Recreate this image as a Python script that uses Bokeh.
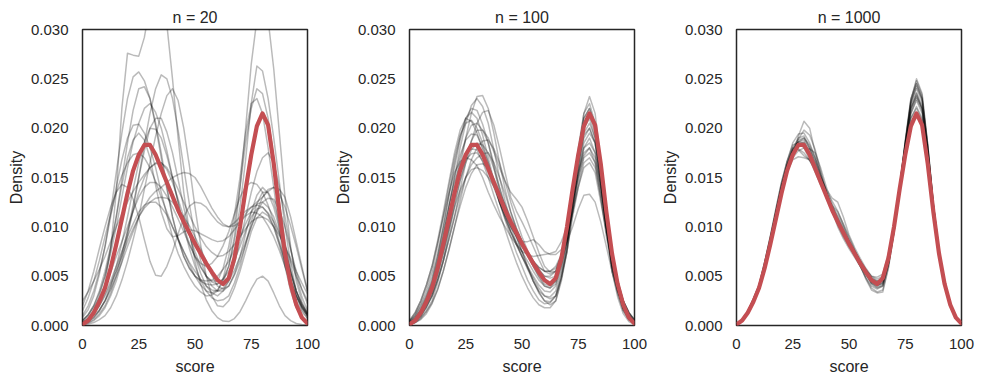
from bokeh.plotting import figure
from bokeh.layouts import row
from bokeh.models import Range1d, FixedTicker, NumeralTickFormatter
from bokeh.embed import file_html
from bokeh.resources import INLINE

# ---------------- data (densities given in units of 0.001) ----------------
UNIT = 0.001

titles = ["n = 20", "n = 100", "n = 1000"]
x_ticks = [0, 25, 50, 75, 100]
y_ticks = [0.0, 0.005, 0.010, 0.015, 0.020, 0.025, 0.030]

# score grid on which all curves were read
score = [0, 2.5, 5, 7.5, 10, 12.5, 15, 17.5, 20, 22.5, 25, 27.5, 30, 32.5, 35, 37.5,
         40, 42.5, 45, 47.5, 50, 52.5, 55, 57.5, 60, 62.5, 65, 67.5, 70, 72.5, 75,
         77.5, 80, 82.5, 85, 87.5, 90, 92.5, 95, 97.5, 100]

# true density (red)
true_density = [0.1, 0.5, 1.3, 2.4, 3.8, 5.8, 8.2, 10.8, 13.4, 15.7, 17.3, 18.3, 18.3, 17.3,
                15.9, 14.5, 13.1, 11.7, 10.5, 9.4, 8.3, 7.3, 6.3, 5.4, 4.6, 4.2, 4.8, 6.8,
                10.0, 13.8, 17.3, 20.2, 21.5, 20.3, 16.4, 11.5, 7.3, 4.2, 2.1, 0.8, 0.2]

# sample KDE curves, n = 20
kde_n20 = [
    [0.3, 0.6, 1.2, 2.3, 4.2, 7.8, 13.5, 22, 27.6, 27.4, 27.3, 29.2, 32.5, 34.5, 34, 30.5, 25, 19, 13.5, 9.5, 6.5, 4.2, 2.6, 1.5, 0.8, 0.45, 0.4, 0.7, 1.4, 2.5, 3.7, 4.7, 5, 4.5, 3.3, 2, 1.0, 0.5, 0.2, 0.1, 0.05],
    [0.3, 0.6, 1.2, 2, 3.2, 4.5, 6, 7.5, 9, 10.3, 11.5, 12.2, 12.5, 12.5, 12, 11.2, 10, 8.8, 7.5, 6.2, 5, 4.1, 3.5, 3.3, 3.6, 4.4, 6, 9, 14, 20, 26.5, 31, 33, 31, 26, 19.5, 13, 8, 4.5, 2.4, 1.2],
    [0.5, 1, 1.8, 2.8, 4, 5.4, 7, 8.5, 10, 11.6, 13, 14, 14.5, 14.5, 14, 13.1, 12, 10.8, 9.5, 8.2, 7, 5.9, 5, 4.4, 4.2, 4.7, 6, 8.5, 12, 16.8, 22.5, 26.3, 25.8, 23, 19, 14.5, 10, 6.3, 3.5, 1.9, 1],
    [1, 2, 3.5, 5.5, 8, 11, 14, 16.8, 19, 20.3, 20.4, 19.5, 18, 16, 13.5, 11.2, 9, 7.3, 6, 4.9, 4, 3.4, 3, 3.1, 3.5, 4.8, 7, 10.3, 14, 18.5, 22, 24, 23.5, 21, 17, 12.5, 8.5, 5.5, 3, 1.6, 0.8],
    [0.2, 0.4, 0.8, 1.5, 2.5, 3.8, 5.5, 7.4, 9.5, 11.6, 13.5, 15, 16, 16.5, 16.5, 15.8, 14.5, 12.8, 11, 9.2, 7.5, 6, 5, 4.5, 4.5, 5.8, 8, 11.2, 15, 19.5, 22.5, 23, 21.5, 18, 14, 9.8, 6, 3.5, 1.8, 0.9, 0.4],
    [0.8, 1.6, 3, 5.2, 8, 11.5, 15.5, 19.5, 23, 25.2, 25.7, 24.8, 23, 20.2, 17, 13.8, 11, 8.8, 7, 5.8, 5, 4.6, 4.5, 4.6, 5, 5.7, 6.5, 7.7, 9, 10.3, 11.5, 12.3, 12.5, 12, 11, 9.4, 7.5, 5.4, 3.5, 2.2, 1.2],
    [0.1, 0.25, 0.5, 1, 1.8, 3, 4.5, 6.5, 9, 11.8, 15, 18.4, 21.5, 24, 25.4, 25, 23, 19.8, 16, 12.3, 9, 6.6, 5, 4, 3.5, 3.5, 4, 5.1, 6.5, 8.2, 10, 11.5, 12.5, 12.9, 12.8, 11.7, 10, 7.7, 5.5, 3.6, 2.2],
    [0.05, 0.15, 0.3, 0.6, 1, 1.8, 3, 4.6, 6.5, 8.7, 11, 13.8, 16.5, 19.2, 21.5, 23.3, 24, 22.8, 20, 16.2, 12, 8.2, 5, 3, 2, 1.9, 2.5, 3.8, 5.5, 7.5, 9.5, 10.9, 11.5, 11.1, 10, 8.1, 6, 4.1, 2.5, 1.4, 0.7],
    [0.5, 1.1, 2, 3.3, 5, 7.3, 10, 13, 16, 18.6, 20.5, 22, 22.5, 21.6, 20, 17.7, 15, 12.4, 10, 8.3, 7, 6.3, 6, 6.3, 7, 8.1, 9.5, 11.3, 13, 14.1, 14.5, 14.3, 13.5, 12.2, 10.5, 8.5, 6.5, 4.6, 3, 1.8, 1],
    [0.1, 0.3, 0.6, 1.2, 2, 3.3, 5, 7.1, 9.5, 12.2, 15, 17.7, 20, 21, 21, 19.6, 17.5, 14.8, 12, 9.3, 7, 5.3, 4, 3.3, 3, 3.5, 4.5, 6.3, 8.5, 11, 13.5, 15.6, 17, 17.5, 16.5, 14, 11, 7.8, 5, 2.9, 1.5],
    [2, 3.5, 5.5, 7.8, 10, 12, 13.5, 14.3, 14, 12.8, 11, 8.7, 6.5, 5.1, 5, 6, 7.5, 9.3, 11, 12.1, 12.5, 12.4, 12, 11.2, 10.5, 10.1, 10, 10.4, 11, 11.6, 12, 12.2, 12, 11.4, 10.5, 9.3, 8, 6.5, 5, 3.7, 2.5],
    [0.3, 0.6, 1, 1.6, 2.5, 3.6, 5, 6.4, 8, 9.5, 11, 12.1, 13, 13.6, 14, 14.5, 15, 15.3, 15.5, 15.4, 15, 14.1, 13, 11.9, 11, 10.3, 10, 10.1, 10.5, 11.1, 11.5, 11.4, 11, 10.1, 9, 7.6, 6, 4.4, 3, 2, 1.2],
    [0.5, 1.1, 2, 3.5, 5.5, 8, 11, 14.2, 17, 18.8, 19.5, 18.8, 17, 14.2, 11.5, 9.8, 9, 9.1, 9.5, 9.7, 9.6, 9.3, 9, 8.7, 8.5, 8.6, 9, 9.7, 10.5, 11.3, 12, 12.5, 13, 13.6, 14, 13.8, 13, 11, 8.5, 6, 3.5],
    [1.5, 2.8, 4.5, 6.6, 9, 11.3, 13.5, 15.2, 16.5, 17.3, 17.5, 17, 16, 14.6, 13, 11.5, 10, 8.7, 7.5, 6.4, 5.5, 4.7, 4, 3.6, 3.5, 3.8, 4.5, 5.6, 7, 8.5, 10, 11.6, 13, 13.8, 14, 13.3, 12, 10.1, 8, 5.7, 3.5],
    [0.2, 0.4, 0.8, 1.5, 2.5, 4, 6, 8.4, 11, 13.8, 16.5, 18.6, 20, 19.9, 19, 17.2, 15, 12.5, 10, 7.8, 6, 4.6, 3.5, 2.8, 2.5, 2.6, 3, 4.3, 6, 8.2, 10.5, 12.3, 13.5, 13.5, 12.5, 10.4, 8, 5.6, 3.5, 2, 1],
    [2.5, 3.4, 4.5, 5.7, 7, 8.5, 10, 11.3, 12.5, 13.6, 14.5, 15.3, 16, 16.4, 16.5, 16, 15, 13.8, 12.5, 11.2, 10, 8.9, 8, 7.4, 7, 7.1, 7.5, 8.2, 9, 9.8, 10.5, 10.9, 11, 10.7, 10, 9.1, 8, 6.8, 5.5, 4.3, 3.2],
    [0.3, 0.7, 1.2, 2, 3, 4.2, 5.5, 7, 8.5, 9.8, 11, 11.9, 12.5, 12.9, 13, 12.9, 12.5, 11.8, 11, 10.1, 9, 7.8, 6.5, 5.1, 4, 3.7, 4, 5.2, 7, 9.3, 11.5, 13.2, 14, 13.4, 12, 9.8, 7.5, 5.3, 3.5, 2.2, 1.2],
    [0.3, 0.8, 1.5, 3, 5, 7.8, 11, 14.8, 18.5, 21.8, 24, 24.2, 23, 20.5, 17.5, 14.1, 11, 8.7, 7, 5.8, 5, 4.5, 4.2, 4.1, 4.2, 4.7, 5.5, 6.6, 8, 9.6, 11, 11.8, 12, 11.3, 10, 8.3, 6.5, 4.6, 3, 1.8, 1],
]

# sample KDE curves, n = 100
kde_n100 = [
    [0.2, 0.5, 1.2, 2.1, 3.3, 5.2, 7.5, 10.1, 13, 16, 19, 21.5, 23.2, 23.3, 22, 19.5, 16.5, 13.8, 11.5, 9.8, 8.5, 7.2, 6, 4.9, 4, 3.8, 4.5, 6.6, 9.5, 13, 16.5, 19.3, 20, 18.5, 14.5, 10, 6.5, 4, 2, 0.9, 0.3],
    [0.3, 0.7, 1.5, 2.6, 4, 6.3, 9, 12, 15, 18, 20.5, 22.3, 23, 22.2, 20.5, 17.8, 15, 12.6, 10.5, 9.1, 8, 7, 6, 5, 4.2, 4, 4.5, 6.5, 9.5, 13.5, 17.5, 21, 22, 20, 15.5, 10.5, 6.5, 3.8, 1.8, 0.7, 0.2],
    [0.2, 0.5, 1, 1.9, 3, 4.6, 6.5, 8.7, 11, 13.8, 16.5, 18.7, 20.5, 21.6, 21.8, 20.3, 18, 15.5, 13, 11.6, 10.5, 9.3, 8, 6.7, 5.5, 5.2, 5.5, 7.2, 9.5, 12.5, 15.5, 17.5, 18, 16.5, 13, 9, 6, 3.7, 2, 1, 0.4],
    [0.4, 1, 2, 3.3, 5, 7.3, 10, 13, 16, 18.8, 21, 21.6, 21, 19.3, 17, 14.7, 12.5, 10.9, 9.5, 8.2, 7, 5.8, 4.8, 3.8, 3, 2.7, 3, 5.2, 8, 12.5, 17.5, 21.5, 23.2, 21.5, 16.5, 11, 6.5, 3.8, 1.7, 0.7, 0.2],
    [0.5, 1.3, 2.5, 4.1, 6, 8.6, 11.5, 14.5, 17.5, 19.8, 21, 20.7, 19.5, 17.8, 16, 14.2, 12.5, 11.2, 10, 9, 8, 7.2, 6.5, 5.9, 5.5, 5.5, 6, 7.2, 9, 11.5, 14, 16, 16.5, 15.5, 12.5, 9.5, 6.5, 4.3, 2.5, 1.3, 0.6],
    [0.2, 0.5, 1.2, 2.2, 3.5, 5.5, 8, 10.9, 14, 16.8, 19, 20.3, 20.5, 19.8, 18.5, 16.4, 14, 11.9, 10, 8.4, 7, 5.7, 4.5, 3.4, 2.5, 2.1, 2.5, 4.5, 7.5, 12, 16.5, 20, 21, 19, 14.5, 9.5, 5.5, 3.2, 1.5, 0.6, 0.2],
    [0.1, 0.3, 0.8, 1.5, 2.5, 4.3, 6.5, 9.2, 12, 14.7, 17, 18.7, 19.8, 19.8, 19, 17.6, 16, 14.6, 13.5, 12.8, 12, 10.6, 9, 7.4, 6, 5.4, 5.5, 6.7, 8.5, 11.5, 15, 18, 19, 17.5, 14, 10, 6.5, 4, 2, 0.9, 0.3],
    [0.1, 0.3, 0.7, 1.4, 2.3, 3.7, 5.5, 7.6, 10, 12.6, 15, 16.8, 18, 18.7, 18.8, 17.9, 16.5, 14.6, 12.5, 10.7, 9, 7.6, 6.5, 5.6, 5, 5, 5.5, 7, 9, 11.5, 14.5, 17, 17.5, 16.5, 13.5, 10, 7, 4.6, 2.5, 1.3, 0.5],
    [0.3, 0.9, 1.8, 3, 4.5, 6.8, 9.5, 12.1, 14.5, 16.3, 17.5, 17.9, 17.8, 16.6, 15, 13.2, 11.5, 9.7, 8, 6.4, 5, 3.8, 2.8, 2.1, 1.8, 1.8, 2.5, 4.8, 8, 13, 18, 21.5, 22.5, 20.5, 15.5, 10, 5.5, 2.9, 1.2, 0.4, 0.1],
    [0.2, 0.6, 1.3, 2.4, 3.8, 6, 8.5, 11, 13.5, 15.5, 16.8, 17.4, 17.5, 16.7, 15.5, 14, 12.5, 11.1, 10, 9.1, 8.5, 8.5, 8.7, 8.2, 7.5, 7.2, 7.2, 7.7, 8.5, 10, 11.8, 13.2, 13.3, 12.5, 10.5, 8, 5.5, 3.5, 2, 1, 0.4],
    [0.2, 0.5, 1.2, 2.2, 3.5, 5.3, 7.5, 9.8, 12, 13.7, 15, 15.8, 16, 15.7, 15, 14.1, 13, 11.8, 10.5, 9, 7.5, 6, 4.5, 3.3, 2.5, 2.4, 3, 4.8, 7.5, 11.5, 16, 19.5, 20.5, 19, 15, 10.5, 6.5, 3.8, 1.8, 0.7, 0.2],
    [0.5, 1.3, 2.5, 4.1, 6, 8.4, 11, 13.4, 15.5, 16.6, 17, 16.8, 16.2, 15, 13.5, 12.2, 11, 10, 9, 8.2, 7.5, 7.2, 7, 7.1, 7.2, 7.3, 7.5, 8.5, 10, 12.5, 15, 17.2, 18, 17, 14, 10.5, 7, 4.5, 2.5, 1.3, 0.6],
    [0.2, 0.7, 1.5, 2.7, 4.2, 6.4, 9, 12, 15, 17.3, 18.8, 19.4, 19.3, 18.1, 16.5, 14.5, 12.5, 10.9, 9.5, 8.4, 7.5, 6.5, 5.5, 4.6, 4, 3.8, 4.2, 6.2, 9, 13, 17, 20.5, 21.5, 19.5, 15, 10, 6, 3.6, 1.7, 0.7, 0.2],
    [0.3, 0.8, 1.6, 2.9, 4.5, 7, 10, 13.3, 16.5, 19.1, 21, 22, 21.8, 20.4, 18.5, 16, 13.5, 11.3, 9.5, 8.2, 7, 6, 5, 4.1, 3.5, 3.4, 4, 6, 8.5, 12, 15.5, 18.5, 19.5, 18.5, 14.5, 10, 6, 3.6, 1.8, 0.8, 0.3],
    [0.1, 0.3, 0.6, 1.2, 2.2, 3.6, 5.5, 7.7, 10, 12.1, 14, 15.4, 16.3, 16.4, 16, 14.9, 13.5, 12.2, 11, 9.7, 8.5, 7.4, 6.5, 5.9, 5.5, 5.5, 5.8, 7, 9, 12.5, 16, 19, 20, 18.5, 14.5, 10, 6, 3.7, 1.8, 0.8, 0.3],
    [0.1, 0.4, 0.9, 1.8, 3, 4.8, 7, 9.7, 12.5, 14.7, 16.5, 17.8, 18.5, 18.3, 17.5, 15.9, 14, 12.2, 10.5, 9, 7.5, 5.9, 4.5, 3.5, 3, 2.9, 3.5, 5.6, 8.5, 13, 17.5, 21, 22, 20.5, 16, 10.5, 6, 3.4, 1.5, 0.6, 0.2],
    [0.4, 1.1, 2.2, 3.7, 5.5, 8.1, 11, 14.1, 17, 19.3, 20.5, 20.8, 20, 18.5, 16.5, 14.5, 12.5, 10.7, 9, 7.4, 6, 4.6, 3.5, 2.6, 2.2, 2.3, 3, 4.9, 7.5, 11, 14, 16.5, 17, 16, 13, 9.5, 6.5, 4.3, 2.5, 1.3, 0.5],
    [0.2, 0.5, 1, 1.9, 3, 4.6, 6.5, 8.7, 11, 13.2, 15, 16.3, 17, 17.4, 17.5, 16.5, 15, 13.3, 11.5, 9.9, 8.5, 7.4, 6.5, 5.7, 5, 4.8, 5, 6.4, 8.5, 12, 15.5, 18, 18.5, 17.5, 14, 10, 6.5, 4.1, 2.2, 1.1, 0.4],
]

# sample KDE curves, n = 1000
kde_n1000 = [
    [0.1, 0.6, 1.4, 2.6, 4, 6.2, 8.8, 11.5, 14, 16.2, 17.8, 18.6, 18.5, 17.4, 16, 14.5, 13, 11.6, 10.3, 9.2, 8.2, 7.2, 6.2, 5.2, 4.3, 4, 4.4, 6.5, 9.8, 14, 18.2, 22, 23.5, 22, 17.5, 12, 7.5, 4.3, 2.2, 0.9, 0.2],
    [0.1, 0.5, 1.3, 2.5, 3.8, 6, 8.5, 11.2, 13.8, 16, 17.5, 18.6, 19, 18.3, 17, 15.3, 13.5, 11.9, 10.5, 9.4, 8.3, 7.3, 6.3, 5.3, 4.5, 4.2, 4.5, 6.5, 9.8, 13.8, 18, 21.5, 23, 21.8, 17.5, 12, 7.6, 4.4, 2.2, 0.9, 0.2],
    [0.1, 0.6, 1.4, 2.7, 4.1, 6.4, 9, 11.8, 14.5, 16.7, 18.3, 18.5, 18, 16.8, 15.5, 14.2, 13, 11.9, 11, 9.8, 8.5, 7.2, 6, 4.9, 4, 3.7, 4, 6.2, 9.5, 14, 18.5, 22.5, 24.5, 23, 18, 12.2, 7.6, 4.4, 2.1, 0.8, 0.2],
    [0.1, 0.5, 1.3, 2.5, 3.9, 6.1, 8.6, 11.3, 14, 16.3, 18, 19, 19.2, 18, 16.5, 14.7, 13, 11.8, 10.8, 9.6, 8.5, 7.5, 6.5, 5.6, 4.8, 4.5, 4.8, 6.8, 10, 14, 18, 21.5, 22.8, 21.5, 17.3, 12, 7.5, 4.3, 2.2, 0.9, 0.2],
    [0.1, 0.5, 1.2, 2.3, 3.6, 5.7, 8.2, 10.8, 13.3, 15.5, 17.2, 19.2, 20.7, 20, 17.5, 15.3, 13.5, 11.8, 10.2, 9, 8, 7.1, 6.2, 5.3, 4.5, 4.1, 4.3, 6.3, 9.5, 13.8, 18.5, 22.8, 25, 23.5, 18.3, 12.3, 7.6, 4.3, 2.1, 0.8, 0.2],
    [0.1, 0.5, 1.3, 2.5, 3.7, 5.9, 8.4, 11.1, 13.6, 15.6, 16.8, 17.1, 17, 16.8, 16, 15, 13.8, 12.9, 12.5, 11, 9.2, 7.9, 6.8, 5.8, 5, 4.7, 5, 7, 10, 13.8, 17.8, 21, 22.2, 21, 17, 12, 7.5, 4.3, 2.2, 0.9, 0.2],
    [0.1, 0.6, 1.4, 2.6, 4, 6.3, 8.7, 11.5, 14.2, 16.6, 18.5, 19.4, 19.5, 18.5, 17, 15.1, 13.2, 11.7, 10.5, 9.3, 8.2, 7.1, 6, 4.8, 3.8, 3.4, 3.6, 5.9, 9.5, 14, 18.8, 23, 24.5, 23, 18, 12.1, 7.5, 4.3, 2.1, 0.8, 0.2],
    [0.1, 0.5, 1.3, 2.5, 3.8, 6, 8.5, 11.1, 13.7, 15.6, 17, 17.7, 18, 17.9, 17.5, 15.9, 14, 12.3, 10.8, 9.6, 8.5, 7.5, 6.5, 5.5, 4.7, 4.4, 4.7, 6.7, 9.8, 13.8, 18, 21.8, 23.3, 22, 17.6, 12, 7.5, 4.3, 2.2, 0.9, 0.2],
    [0.1, 0.6, 1.4, 2.7, 4, 6.4, 8.9, 11.6, 14.3, 16.3, 17.8, 18.6, 18.8, 17.8, 16.5, 14.8, 13.3, 12.2, 11.5, 10.3, 9, 7.7, 6.5, 5.3, 4.2, 3.8, 4, 6.2, 9.6, 14, 18.4, 22.5, 24, 22.7, 18, 12.2, 7.6, 4.4, 2.1, 0.8, 0.2],
    [0.1, 0.5, 1.3, 2.4, 3.7, 5.8, 8.3, 10.9, 13.5, 15.6, 17.3, 18.9, 19.8, 19.3, 17.8, 15.6, 13.5, 11.6, 10, 8.8, 7.8, 6.9, 6, 5.2, 4.4, 4.1, 4.2, 6.3, 9.6, 13.9, 18.3, 22.2, 23.6, 22.3, 17.8, 12.1, 7.5, 4.3, 2.2, 0.9, 0.2],
    [0.1, 0.6, 1.4, 2.6, 3.9, 6.1, 8.6, 11.3, 14, 16.1, 17.7, 17.9, 17.5, 16.7, 15.8, 14.5, 13.2, 12.1, 11.2, 10, 8.6, 7.5, 6.4, 5.6, 5, 4.9, 5.2, 7.3, 10.2, 14, 17.8, 21, 22, 20.8, 16.8, 11.8, 7.4, 4.3, 2.2, 0.9, 0.2],
    [0.1, 0.5, 1.3, 2.5, 3.8, 6, 8.5, 11.2, 13.8, 15.9, 17.6, 18.4, 18.6, 17.5, 16.2, 14.5, 13, 11.6, 10.4, 9.2, 8.1, 7.1, 6.1, 4.7, 3.6, 3.3, 3.4, 5.8, 9.4, 14, 18.5, 22.7, 24.2, 22.9, 18.2, 12.2, 7.6, 4.4, 2.1, 0.8, 0.2],
    [0.1, 0.5, 1.3, 2.5, 3.8, 6.1, 8.6, 11.4, 14, 16.2, 17.9, 18.8, 19, 18, 16.8, 15, 13.4, 11.9, 10.6, 9.5, 8.4, 7.5, 6.6, 5.7, 4.9, 4.5, 4.6, 6.8, 9.9, 14, 18.2, 22, 23.2, 22, 17.5, 12, 7.5, 4.3, 2.2, 0.9, 0.2],
    [0.1, 0.6, 1.4, 2.7, 4.1, 6.4, 9, 11.8, 14.5, 16.6, 18, 17.8, 17.2, 16.8, 16, 14.9, 13.6, 12.6, 11.6, 10.2, 8.8, 7.6, 6.4, 5.3, 4.3, 3.9, 4.1, 6.2, 9.7, 14.1, 18.6, 22.9, 24.8, 23.3, 18.3, 12.3, 7.7, 4.4, 2.2, 0.9, 0.2],
]

panels = [kde_n20, kde_n100, kde_n1000]

# ---------------- styling ----------------
FONT = "Liberation Sans"
TXT = "#262626"
RED = "#C44E52"


def make_panel(title, curves, right_border):
    p = figure(frame_width=225, frame_height=296,
               x_range=Range1d(0, 100), y_range=Range1d(0, 0.030),
               output_backend="svg", toolbar_location=None,
               min_border_left=82, min_border_right=right_border,
               min_border_top=29, min_border_bottom=50,
               background_fill_color="white", border_fill_color="white")
    p.title.text = title
    p.title.align = "center"
    p.title.text_font = FONT
    p.title.text_font_size = "16px"
    p.title.text_font_style = "normal"
    p.title.text_color = TXT
    p.title.standoff = 8

    p.xgrid.visible = False
    p.ygrid.visible = False
    p.outline_line_color = TXT
    p.outline_line_width = 1.5
    p.outline_line_alpha = 1.0

    p.xaxis.ticker = FixedTicker(ticks=x_ticks)
    p.yaxis.ticker = FixedTicker(ticks=y_ticks)
    p.yaxis.formatter = NumeralTickFormatter(format="0.000")
    p.xaxis.axis_label = "score"
    p.yaxis.axis_label = "Density"
    for ax in (p.xaxis[0], p.yaxis[0]):
        ax.axis_line_color = None
        ax.major_tick_line_color = None
        ax.minor_tick_line_color = None
        ax.major_tick_out = 0
        ax.major_tick_in = 0
        ax.major_label_text_font = FONT
        ax.major_label_text_font_size = "15px"
        ax.major_label_text_color = TXT
        ax.axis_label_text_font = FONT
        ax.axis_label_text_font_size = "16px"
        ax.axis_label_text_font_style = "normal"
        ax.axis_label_text_color = TXT
    p.xaxis.major_label_standoff = 13
    p.yaxis.major_label_standoff = 14
    p.xaxis.axis_label_standoff = 6
    p.yaxis.axis_label_standoff = 3

    ys = [[v * UNIT for v in c] for c in curves]
    p.multi_line(xs=[score] * len(ys), ys=ys, line_color="black",
                 line_alpha=0.27, line_width=1.5, line_join="round")
    p.line(score, [v * UNIT for v in true_density], line_color=RED, line_width=4.2,
           line_join="round", line_cap="round")
    return p


figs = []
borders = [20, 20, 15]
for t, cs, rb in zip(titles, panels, borders):
    figs.append(make_panel(t, cs, rb))

layout = row(*figs)
open("out.html", "w").write(file_html(layout, INLINE))
